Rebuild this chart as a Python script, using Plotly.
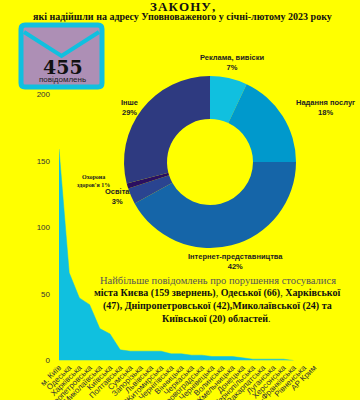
import plotly.graph_objects as go

regions = ["м. Київ","Одеська","Харківська","Дніпропетровська","Миколаївська","Київська","Полтавська","Сумська","Запорізька","Львівська","Житомирська","Чернігівська","Вінницька","Черкаська","Кіровоградська","Чернівецька","Волинська","Хмельницька","Донецька","Тернопільська","Закарпатська","Луганська","Херсонська","Івано-Франківська","Рівненська","АР Крим"]
counts = [159,66,47,42,24,20,8,7,7,7,7,5,5,4,4,3,3,3,2,1,1,1,1,0,None,None]
y_ticks = [0,50,100,150,200]

topics = ["Реклама, вивіски","Надання послуг","Інтернет-представництва","Освіта","Охорона здоров'я","Інше"]
shares = [7,18,42,3,1,29]
topic_colors = ["#10C0DF","#0099CC","#1565A8","#2A4490","#2A0F60","#2E3A80"]

W,H = 360,400
px = lambda x: x/W
py = lambda y: 1-y/H
SERIF = "Liberation Serif"
SANS = "Liberation Sans"

fig = go.Figure()
fig.add_trace(go.Scatter(x=regions,y=counts,mode="lines",fill="tozeroy",fillcolor="#10C0DF",
    line=dict(color="#10C0DF",width=0.5),hoverinfo="skip",showlegend=False))
cx,cy,R = 210,162,86
fig.add_trace(go.Pie(values=shares,labels=topics,sort=False,direction="clockwise",rotation=0,hole=0.5,
    marker=dict(colors=topic_colors,line=dict(width=0)),textinfo="none",showlegend=False,
    domain=dict(x=[px(cx-R),px(cx+R)],y=[py(cy+R),py(cy-R)])))

shapes = [
 dict(type="path",xref="paper",yref="paper",layer="above",
      path=f"M {px(25)} {py(25)} L {px(98)} {py(25)} Q {px(102)} {py(25)} {px(102)} {py(29)} L {px(102)} {py(83)} Q {px(102)} {py(87)} {px(98)} {py(87)} L {px(25)} {py(87)} Q {px(21)} {py(87)} {px(21)} {py(83)} L {px(21)} {py(29)} Q {px(21)} {py(25)} {px(25)} {py(25)} Z",
      fillcolor="#AD8FB5",line=dict(color="#10C0DF",width=5)),
 dict(type="path",xref="paper",yref="paper",layer="above",
      path=f"M {px(24)} {py(32)} L {px(61.5)} {py(56)} L {px(99)} {py(32)}",
      line=dict(color="#10C0DF",width=4)),
]
fig.update_layout(shapes=shapes)

def note(x,y,text,size,color="#222222",family=SANS,bold=False):
    fig.add_annotation(xref="paper",yref="paper",x=px(x),y=py(y),text=f"<b>{text}</b>" if bold else text,
        showarrow=False,xanchor="center",yanchor="middle",font=dict(size=size,color=color,family=family),align="center",
        borderpad=0,yshift=0)

note(182,6,"З\u200aА\u200aК\u200aО\u200aН\u200aУ\u200a,",13,"#111111",SERIF,True)
note(182,17,"які надійшли на адресу Уповноваженого у січні-лютому 2023 року",10,"#111111",SERIF,True)
note(62.5,66.5,"455",19,"#111111","DejaVu Serif",True)
note(63,79,"повідомлень",8,"#222222")

def pie_label(x,y,i,size=7.5):
    note(x,y,f"{topics[i]}<br>{shares[i]}%",size,"#222222",SANS,True)
pie_label(232,63,0)
pie_label(325,107,1)
pie_label(235,261,2)
pie_label(117,197,3)
pie_label(129,107,5)
note(93,181,"Охорона<br>здоров'я 1%",6,"#222222",SERIF,True)

note(218,280,"Найбільше повідомлень про порушення стосувалися",10.5,"#555555",SERIF)
note(217,293,"<b>міста Києва (159 звернень)</b>, <b>Одеської (66)</b>, <b>Харківської</b>",10,"#111111",SERIF)
note(217,306,"<b>(47), Дніпропетровської (42),Миколаївської (24) та</b>",10,"#111111",SERIF)
note(216,319,"<b>Київської (20) областей</b>.",10,"#111111",SERIF)

fig.update_layout(width=W,height=H,autosize=False,paper_bgcolor="#FFFF00",plot_bgcolor="rgba(0,0,0,0)",
    margin=dict(l=0,r=0,t=0,b=0),showlegend=False,
    font=dict(family=SANS,color="#333333",size=8),
    xaxis=dict(type="category",domain=[59/W,314/W],categoryorder="array",categoryarray=regions,range=[0,25],tickmode="array",
        tickvals=regions,ticktext=regions,tickangle=-45,showgrid=False,zeroline=False,showline=False,ticks="",
        automargin=False,tickfont=dict(size=8,color="#333333",family=SANS)),
    yaxis=dict(domain=[39.5/H,305.5/H],range=[0,200],tickmode="array",tickvals=y_ticks,showgrid=False,zeroline=False,showline=False,ticks="",
        automargin=False,tickfont=dict(size=8,color="#333333",family=SANS),ticklabelstandoff=8))
fig.write_html("out.html",config=dict(displayModeBar=False),
    post_script="document.body.style.margin='0';document.body.style.overflow='hidden';document.body.style.background='#FFFF00';")
